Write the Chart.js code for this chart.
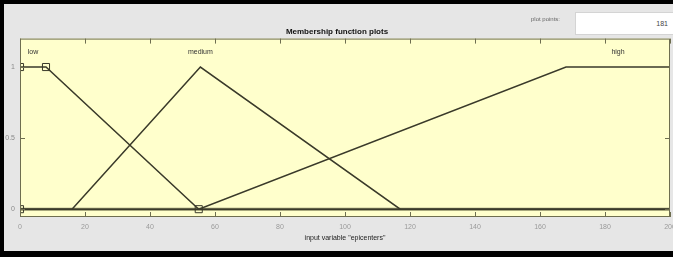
<!DOCTYPE html>
<html>
<head>
<meta charset="utf-8">
<script src="https://cdn.jsdelivr.net/npm/chart.js@4/dist/chart.umd.min.js"></script>
<style>
    body { margin: 0; overflow: hidden; background: #e6e6e6; }
    #wrap { position: relative; width: 680px; height: 257px; }
    #pp-label { position: absolute; left: 531px; top: 16px; font: 6px "Liberation Sans", Arial, sans-serif; color: #666; }
    #pp-box { position: absolute; left: 575px; top: 12px; width: 92px; height: 21px; background: #fff; border: 1px solid #d4d4d4;
              font: 7px "Liberation Sans", Arial, sans-serif; color: #444; text-align: right; padding-right: 5px; line-height: 21px; }
</style>
</head>
<body>
<div id="wrap">
    <canvas id="mf" width="680" height="257"></canvas>
    <div id="pp-label">plot points:</div>
    <div id="pp-box">181</div>
</div>
<script>
// membership functions of input variable "epicenters"
const mfNames = ['low', 'medium', 'high'];
const lowX = [0, 0, 8, 55, 200];
const lowY = [0, 1, 1, 0, 0];
const mediumX = [0, 16, 55.5, 117, 200];
const mediumY = [0, 0, 1, 0, 0];
const highX = [0, 55, 168, 200];
const highY = [0, 0, 1, 1];
// where the names sit (x value, y value)
const nameX = [4, 55.5, 184];
const nameY = 1.105;
const xTicks = [0, 20, 40, 60, 80, 100, 120, 140, 160, 180, 200];
const yTicks = [0, 0.5, 1];

const lineColor = '#3a3a2a';
const font = '"Liberation Sans", Arial, sans-serif';

function toPoints(xs, ys) {
    return xs.map((x, i) => ({ x: x, y: ys[i] }));
}

// frame, plot box, inward ticks and mf names
const decorations = {
    id: 'decorations',
    beforeDraw(chart) {
        const ctx = chart.ctx;
        const a = chart.chartArea;
        ctx.save();
        ctx.fillStyle = '#e6e6e6';
        ctx.fillRect(0, 0, chart.width, chart.height);
        ctx.fillStyle = '#ffffcc';
        ctx.fillRect(a.left, a.top, a.right - a.left, a.bottom - a.top);
        // zero line looks heavier where all mfs overlap
        ctx.strokeStyle = '#8c8c66';
        ctx.lineWidth = 3;
        const y0 = chart.scales.y.getPixelForValue(0);
        ctx.beginPath();
        ctx.moveTo(a.left, y0);
        ctx.lineTo(a.right, y0);
        ctx.stroke();
        ctx.restore();
    },
    afterDraw(chart) {
        const ctx = chart.ctx;
        const a = chart.chartArea;
        const xs = chart.scales.x;
        const ys = chart.scales.y;
        ctx.save();
        ctx.strokeStyle = '#6e6e50';
        ctx.lineWidth = 1;
        ctx.strokeRect(a.left + 0.5, a.top + 0.5, a.right - a.left - 1, a.bottom - a.top - 1);
        ctx.beginPath();
        xTicks.forEach(v => {
            const px = Math.round(xs.getPixelForValue(v)) + 0.5;
            ctx.moveTo(px, a.top); ctx.lineTo(px, a.top + 5);
            ctx.moveTo(px, a.bottom); ctx.lineTo(px, a.bottom - 5);
        });
        yTicks.forEach(v => {
            const py = Math.round(ys.getPixelForValue(v)) + 0.5;
            ctx.moveTo(a.left, py); ctx.lineTo(a.left + 5, py);
            ctx.moveTo(a.right, py); ctx.lineTo(a.right - 5, py);
        });
        ctx.stroke();

        ctx.fillStyle = '#333';
        ctx.font = '7px ' + font;
        ctx.textAlign = 'center';
        ctx.textBaseline = 'middle';
        mfNames.forEach((n, i) => {
            ctx.fillText(n, xs.getPixelForValue(nameX[i]), ys.getPixelForValue(nameY));
        });

        // black window frame
        ctx.fillStyle = '#000';
        ctx.fillRect(0, 0, chart.width, 4);
        ctx.fillRect(0, 0, 4, chart.height);
        ctx.fillRect(0, 251, chart.width, 6);
        ctx.restore();
    }
};

new Chart(document.getElementById('mf'), {
    type: 'scatter',
    data: {
        datasets: [
            { label: 'low', data: toPoints(lowX, lowY), pointRadius: [5, 5, 5, 5, 0], pointStyle: 'rect' },
            { label: 'medium', data: toPoints(mediumX, mediumY), pointRadius: 0 },
            { label: 'high', data: toPoints(highX, highY), pointRadius: 0 }
        ].map(d => Object.assign(d, {
            showLine: true,
            borderColor: lineColor,
            borderWidth: 1.5,
            pointBorderColor: lineColor,
            pointBackgroundColor: 'rgba(0,0,0,0)',
            pointBorderWidth: 1
        }))
    },
    options: {
        responsive: false,
        animation: false,
        events: [],
        layout: { padding: { left: 4, right: 10, top: 27, bottom: 11 } },
        plugins: {
            legend: { display: false },
            tooltip: { enabled: false },
            title: {
                display: true,
                text: 'Membership function plots',
                color: '#111',
                font: { family: font, size: 8, weight: 'bold' },
                padding: { top: 0, bottom: 2 }
            }
        },
        scales: {
            x: {
                type: 'linear',
                min: 0,
                max: 200,
                afterBuildTicks: s => { s.ticks = xTicks.map(v => ({ value: v })); },
                afterFit: s => { s.height = 29; s.paddingLeft = 0; s.paddingRight = 0; },
                grid: { display: false, drawTicks: false },
                border: { display: false },
                ticks: { color: '#9a9a9a', padding: 6, font: { family: font, size: 7 } },
                title: {
                    display: true,
                    text: 'input variable "epicenters"',
                    color: '#222',
                    font: { family: font, size: 7 },
                    padding: { top: 0, bottom: 4 }
                }
            },
            y: {
                type: 'linear',
                min: -0.055,
                max: 1.2,
                afterBuildTicks: s => { s.ticks = yTicks.map(v => ({ value: v })); },
                afterFit: s => { s.width = 16; },
                grid: { display: false, drawTicks: false },
                border: { display: false },
                ticks: { color: '#8a8a8a', padding: 5, font: { family: font, size: 7 }, callback: v => String(v) }
            }
        }
    },
    plugins: [decorations]
});
</script>
</body>
</html>
